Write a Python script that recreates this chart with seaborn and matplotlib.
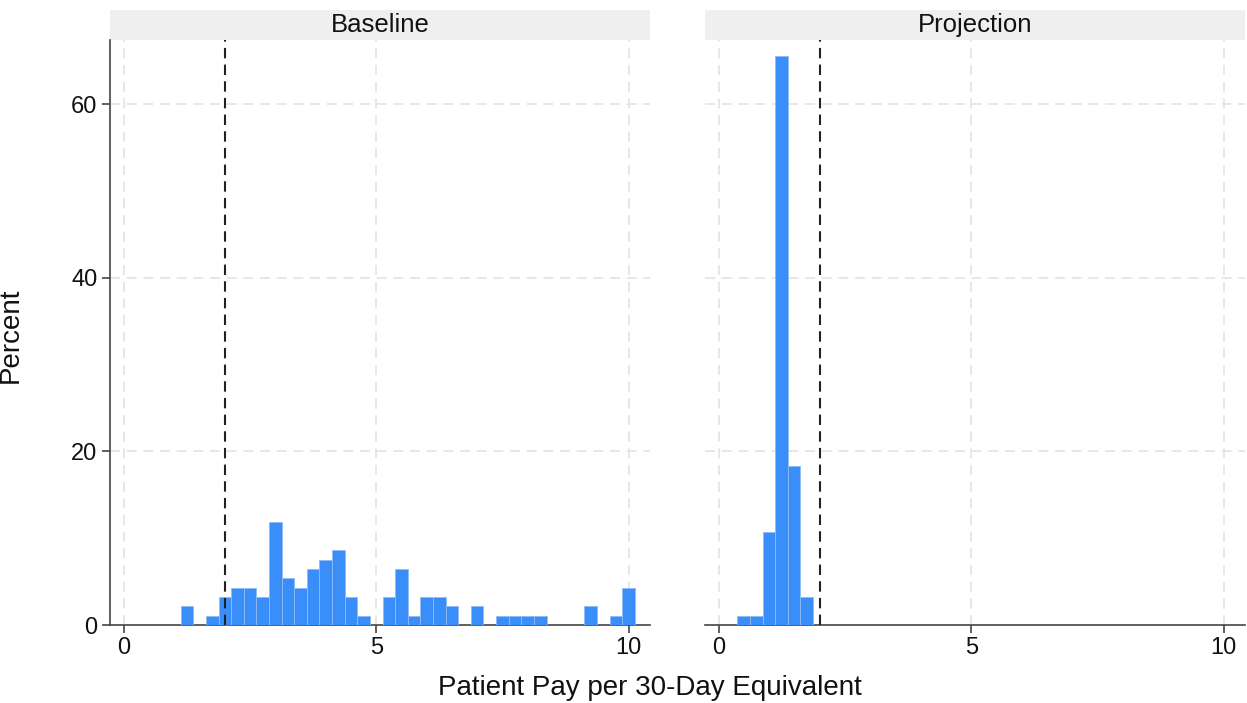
import numpy as np
import pandas as pd
import matplotlib.pyplot as plt
import seaborn as sns
from matplotlib.patches import Rectangle

# Histogram counts (bin width 0.25)
base_counts = [2, 0, 1, 3, 4, 4, 3, 11, 5, 4, 6, 7, 8, 3, 1, 0, 3, 6,
               1, 3, 3, 2, 0, 2, 0, 1, 1, 1, 1, 0, 0, 0, 2, 0, 1, 4]
proj_counts = [1, 1, 10, 61, 17, 3]
base_start = 1.12
proj_start = 0.36
bin_width = 0.25
panels = ["Baseline", "Projection"]
threshold = 2
x_ticks = [0, 5, 10]
y_ticks = [0, 20, 40, 60]

def make_df(start, counts, name):
    edges = start + bin_width * np.arange(len(counts) + 1)
    centers = (edges[:-1] + edges[1:]) / 2
    df = pd.DataFrame({"pay": centers, "n": counts, "panel": name})
    return df, (edges[0], edges[-1])

base_df, base_range = make_df(base_start, base_counts, panels[0])
proj_df, proj_range = make_df(proj_start, proj_counts, panels[1])

sns.set_style("white")
plt.rcParams["font.family"] = ["Liberation Sans", "DejaVu Sans"]

fig = plt.figure(figsize=(12.47, 7.03), dpi=100)
W, H = 1247, 703
ax1 = fig.add_axes([110 / W, 1 - 625 / H, 540 / W, 585 / H])
ax2 = fig.add_axes([705 / W, 1 - 625 / H, 540 / W, 585 / H], sharey=ax1)

bar_color = "#3a8efa"
for ax, df, rng, name in [(ax1, base_df, base_range, panels[0]),
                          (ax2, proj_df, proj_range, panels[1])]:
    sns.histplot(data=df, x="pay", weights="n", binwidth=bin_width,
                 binrange=rng, stat="percent",
                 color=bar_color, alpha=1, edgecolor="#8fbcf7", linewidth=0.6,
                 ax=ax, zorder=3)
    ax.set_xlim(-0.28, 10.42)
    ax.set_ylim(0, 67.4)
    ax.set_xticks(x_ticks)
    ax.set_yticks(y_ticks)
    for xv in x_ticks:
        ax.axvline(xv, color="#e3e3e3", lw=1.2, ls=(0, (6, 4)), zorder=1)
    for yv in y_ticks[1:]:
        ax.axhline(yv, color="#e3e3e3", lw=1.2, ls=(0, (6, 4)), zorder=1)
    ax.axvline(threshold, color="#222222", lw=1.5, ls=(0, (5, 3)), zorder=4)
    ax.set_xlabel("")
    ax.set_ylabel("")
    ax.tick_params(axis="both", labelsize=17, length=6, width=1.2, pad=3,
                   direction="out", color="#444444", labelcolor="#111111",
                   bottom=True, left=True)
    for s in ["top", "right"]:
        ax.spines[s].set_visible(False)
    ax.spines["bottom"].set_color("#444444")
    ax.spines["bottom"].set_linewidth(1.2)
    ax.spines["left"].set_color("#444444")
    ax.spines["left"].set_linewidth(1.2)
    # facet strip
    ax.add_patch(Rectangle((0, 1.0), 1, 30 / 585, transform=ax.transAxes,
                           facecolor="#efefef", edgecolor="none", clip_on=False))
    ax.text(0.5, 1 + 15 / 585, name, transform=ax.transAxes, ha="center",
            va="center", fontsize=18.5, color="#111111")

ax2.spines["left"].set_visible(False)
ax2.tick_params(axis="y", left=False, labelleft=False)

fig.text(650 / W, 1 - 688 / H, "Patient Pay per 30-Day Equivalent",
         ha="center", va="center", fontsize=20, color="#111111")
fig.text(11 / W, 1 - 335 / H, "Percent", rotation=90, ha="center",
         va="center", fontsize=20, color="#111111")

fig.savefig("out.png", dpi=100)
